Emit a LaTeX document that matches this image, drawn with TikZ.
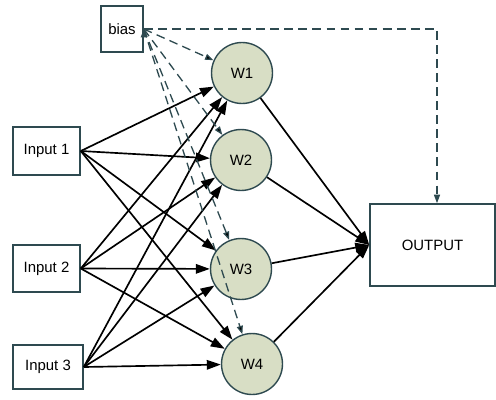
\documentclass[tikz,border=0pt]{standalone}
\usepackage{fontspec}
\setmainfont{Liberation Sans}
\usepackage{tikz}
\usetikzlibrary{arrows.meta}

\definecolor{wfill}{HTML}{D8DEC5}
\definecolor{wline}{HTML}{2E4A50}

\tikzset{
  inbox/.style={draw=wline, line width=0.9pt, minimum width=1.34cm, minimum height=0.95cm,
                inner sep=0pt, font=\fontsize{8.5}{10}\selectfont},
  weight/.style={circle, draw=wline, line width=0.8pt, fill=wfill, minimum size=1.22cm,
                 inner sep=0pt, font=\fontsize{8.5}{10}\selectfont},
  solidarrow/.style={-{Triangle[length=0.28cm,width=0.19cm]}, line width=0.95pt},
  biasarrow/.style={-{Triangle[length=0.17cm,width=0.12cm]}, line width=0.75pt,
                    dash pattern=on 5pt off 3pt, draw=wline}
}

\begin{document}
\begin{tikzpicture}[x=0.02cm, y=-0.02cm]
          \useasboundingbox (0,0) rectangle (496,399);

          \node[inbox, minimum width=0.84cm, minimum height=0.92cm] (bias) at (122, 29) {bias};
          \node[inbox] (in1) at (46.5, 151) {Input 1};
          \node[inbox, minimum height=0.94cm] (in2) at (46.5, 268.5) {Input 2};
          \node[inbox, minimum width=1.4cm, minimum height=0.88cm] (in3) at (48, 367) {Input 3};

          \node[weight] (w1) at (242, 73) {W1};
          \node[weight] (w2) at (241, 160) {W2};
          \node[weight] (w3) at (241, 269) {W3};
          \node[weight] (w4) at (252, 364) {W4};

          \node[inbox, minimum width=2.5cm, minimum height=1.64cm] (out) at (432.5, 245) {OUTPUT};

          \path[solidarrow] (in1.east) edge (w1) edge (w2) edge (w3) edge (w4)
                            (in2.east) edge (w1) edge (w2) edge (w3) edge (w4)
                            (in3.east) edge (w1) edge (w2) edge (w3) edge (w4);

          \path[biasarrow] (bias.east) edge (w1) edge (w2) edge (w3) edge (w4);
          \draw[biasarrow] (bias.east) -| ([xshift=0.09cm]out.north);

          \path[solidarrow] (w1) edge (out.west)
                            (w2) edge (out.west)
                            (w3) edge (out.west)
                            (w4) edge (out.west);
        \end{tikzpicture}
\end{document}
